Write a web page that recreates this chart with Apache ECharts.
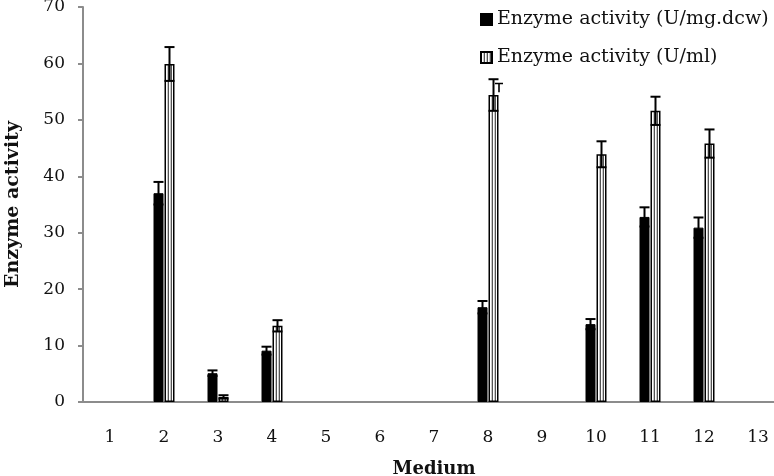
<!DOCTYPE html>
<html>
<head>
<meta charset="utf-8">
<script src="https://cdn.jsdelivr.net/npm/echarts@6/dist/echarts.min.js"></script>
<style>
  html, body { margin: 0; padding: 0; background: #fff; }
  #main { width: 774px; height: 476px; }
</style>
</head>
<body>
<div id="main"></div>
<script>
// medium numbers on the x axis
var media = ['1', '2', '3', '4', '5', '6', '7', '8', '9', '10', '11', '12', '13'];
// enzyme activity (U/mg.dcw) and its error
var perDcw    = [null, 37.0, 5.1, 9.1, null, null, null, 16.8, null, 13.8, 32.8, 30.9, null];
var perDcwErr = [null, 2.0, 0.5, 0.7, null, null, null, 1.1, null, 0.9, 1.7, 1.8, null];
// enzyme activity (U/ml) and its error
var perMl     = [null, 59.9, 0.9, 13.5, null, null, null, 54.4, null, 43.9, 51.6, 45.8, null];
var perMlErr  = [null, 3.0, 0.3, 1.0, null, null, null, 2.8, null, 2.3, 2.5, 2.5, null];

var serif = 'DejaVu Serif';

// vertical stripe fill for the U/ml bars
function stripes() {
  var c = document.createElement('canvas');
  c.width = 3; c.height = 4;
  var ctx = c.getContext('2d');
  ctx.fillStyle = '#ffffff'; ctx.fillRect(0, 0, 3, 4);
  ctx.fillStyle = '#555555'; ctx.fillRect(0, 0, 1, 4);
  ctx.fillStyle = '#c8c8c8'; ctx.fillRect(2, 0, 1, 4);
  return c;
}

function errData(vals, errs) {
  var out = [];
  for (var i = 0; i < vals.length; i++) {
    if (vals[i] != null) out.push([i, vals[i], errs[i]]);
  }
  return out;
}

function errRender(offset) {
  return function (params, api) {
    var cat = api.value(0), v = api.value(1), e = api.value(2);
    var top = api.coord([cat, v + e]);
    var bot = api.coord([cat, v - e]);
    var x = top[0] + offset;
    var w = 5;
    var st = { stroke: '#000', lineWidth: 2 };
    return {
      type: 'group',
      children: [
        { type: 'line', shape: { x1: x, y1: top[1], x2: x, y2: bot[1] }, style: st },
        { type: 'line', shape: { x1: x - w, y1: top[1], x2: x + w, y2: top[1] }, style: st },
        { type: 'line', shape: { x1: x - w, y1: bot[1], x2: x + w, y2: bot[1] }, style: st }
      ]
    };
  };
}

var myChart = echarts.init(document.getElementById('main'));
myChart.setOption({
  animation: false,
  textStyle: { fontFamily: serif },
  grid: { left: 83, top: 7, width: 702, height: 395, outerBoundsMode: 'none', containLabel: false },
  legend: [
    {
      orient: 'vertical',
      left: 475,
      top: 5,
      itemWidth: 11,
      itemHeight: 11,
      itemGap: 19,
      icon: 'rect',
      textStyle: { fontFamily: serif, fontSize: 19, color: '#111' },
      data: ['Enzyme activity (U/mg.dcw)', 'Enzyme activity (U/ml)']
    },
    {
      left: 490,
      top: 77,
      itemWidth: 8,
      itemHeight: 11,
      formatter: function () { return ''; },
      data: [{ name: 'SE', icon: 'path://M0,0 L10,0 L10,2 L6,2 L6,12 L4,12 L4,2 L0,2 Z' }]
    }
  ],
  xAxis: {
    type: 'category',
    data: media,
    axisLine: { lineStyle: { color: '#8c8c8c', width: 2 } },
    axisTick: { show: false },
    axisLabel: { fontFamily: serif, fontSize: 17, color: '#111', margin: 27 },
    name: 'Medium',
    nameLocation: 'middle',
    nameGap: 58,
    nameTextStyle: { fontFamily: serif, fontSize: 18, fontWeight: 'bold', color: '#111' }
  },
  yAxis: {
    type: 'value',
    min: 0,
    max: 70,
    interval: 10,
    splitLine: { show: false },
    axisLine: { show: true, lineStyle: { color: '#8c8c8c', width: 2 } },
    axisTick: { show: true, length: 5, lineStyle: { color: '#8c8c8c', width: 2 } },
    axisLabel: { fontFamily: serif, fontSize: 17, color: '#111', margin: 18 },
    name: 'Enzyme activity',
    nameLocation: 'middle',
    nameGap: 60,
    nameTextStyle: { fontFamily: serif, fontSize: 19, fontWeight: 'bold', color: '#111' }
  },
  series: [
    {
      name: 'Enzyme activity (U/mg.dcw)',
      type: 'bar',
      data: perDcw,
      barWidth: 10,
      barGap: '10%',
      itemStyle: { color: '#000', borderColor: '#000', borderWidth: 1 }
    },
    {
      name: 'Enzyme activity (U/ml)',
      type: 'bar',
      data: perMl,
      barWidth: 10,
      barGap: '10%',
      itemStyle: {
        color: { image: stripes(), repeat: 'repeat' },
        borderColor: '#000',
        borderWidth: 1.5
      }
    },
    {
      name: 'SE',
      type: 'custom',
      renderItem: errRender(-5.5),
      data: errData(perDcw, perDcwErr),
      itemStyle: { color: '#000' },
      z: 5
    },
    {
      name: 'SE',
      type: 'custom',
      renderItem: errRender(5.5),
      data: errData(perMl, perMlErr),
      itemStyle: { color: '#000' },
      z: 5
    }
  ]
});
</script>
</body>
</html>
